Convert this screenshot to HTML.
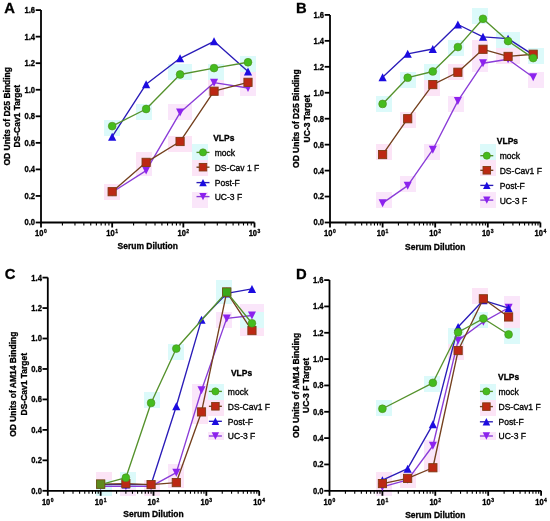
<!DOCTYPE html><html><head><meta charset="utf-8"><style>html,body{margin:0;padding:0;background:#fff;width:550px;height:521px;overflow:hidden}svg{display:block;will-change:transform}text{font-family:"Liberation Sans", sans-serif}</style></head><body>
<svg width="550" height="521" viewBox="0 0 550 521">
<rect width="550" height="521" fill="#fff"/>
<g><rect x="96" y="472" width="8" height="8" fill="#fce4f6"/><rect x="96" y="480" width="8" height="8" fill="#dcfafa"/><rect x="96" y="488" width="8" height="8" fill="#dcfafa"/><rect x="104" y="120" width="8" height="8" fill="#dcfafa"/><rect x="104" y="128" width="8" height="8" fill="#dcfafa"/><rect x="104" y="184" width="8" height="8" fill="#fce4f6"/><rect x="104" y="192" width="8" height="8" fill="#fce4f6"/><rect x="104" y="472" width="8" height="8" fill="#fce4f6"/><rect x="104" y="480" width="8" height="8" fill="#dcfafa"/><rect x="104" y="488" width="8" height="8" fill="#dcfafa"/><rect x="112" y="120" width="8" height="8" fill="#dcfafa"/><rect x="112" y="128" width="8" height="8" fill="#dcfafa"/><rect x="112" y="184" width="8" height="8" fill="#fce4f6"/><rect x="112" y="192" width="8" height="8" fill="#fce4f6"/><rect x="120" y="472" width="8" height="8" fill="#dcfafa"/><rect x="120" y="480" width="8" height="8" fill="#dcfafa"/><rect x="120" y="488" width="8" height="8" fill="#fae6fa"/><rect x="128" y="472" width="8" height="8" fill="#dcfafa"/><rect x="128" y="480" width="8" height="8" fill="#dcfafa"/><rect x="128" y="488" width="8" height="8" fill="#fae6fa"/><rect x="136" y="104" width="8" height="8" fill="#dcfafa"/><rect x="136" y="112" width="8" height="8" fill="#dcfafa"/><rect x="136" y="152" width="8" height="8" fill="#fce4f6"/><rect x="136" y="160" width="8" height="8" fill="#fce4f6"/><rect x="136" y="168" width="8" height="8" fill="#fae6fa"/><rect x="144" y="104" width="8" height="8" fill="#dcfafa"/><rect x="144" y="112" width="8" height="8" fill="#dcfafa"/><rect x="144" y="152" width="8" height="8" fill="#fce4f6"/><rect x="144" y="160" width="8" height="8" fill="#fce4f6"/><rect x="144" y="168" width="8" height="8" fill="#fae6fa"/><rect x="144" y="392" width="8" height="8" fill="#dcfafa"/><rect x="144" y="400" width="8" height="8" fill="#dcfafa"/><rect x="144" y="480" width="8" height="8" fill="#fce4f6"/><rect x="144" y="488" width="8" height="8" fill="#fce4f6"/><rect x="152" y="392" width="8" height="8" fill="#dcfafa"/><rect x="152" y="400" width="8" height="8" fill="#dcfafa"/><rect x="152" y="480" width="8" height="8" fill="#fce4f6"/><rect x="152" y="488" width="8" height="8" fill="#fce4f6"/><rect x="168" y="64" width="8" height="8" fill="#dcfafa"/><rect x="168" y="72" width="8" height="8" fill="#dcfafa"/><rect x="168" y="104" width="8" height="8" fill="#fae6fa"/><rect x="168" y="112" width="8" height="8" fill="#fae6fa"/><rect x="168" y="136" width="8" height="8" fill="#fce4f6"/><rect x="168" y="144" width="8" height="8" fill="#fce4f6"/><rect x="168" y="344" width="8" height="8" fill="#dcfafa"/><rect x="168" y="352" width="8" height="8" fill="#dcfafa"/><rect x="168" y="464" width="8" height="8" fill="#fae6fa"/><rect x="168" y="472" width="8" height="8" fill="#fce4f6"/><rect x="168" y="480" width="8" height="8" fill="#fce4f6"/><rect x="176" y="64" width="8" height="8" fill="#dcfafa"/><rect x="176" y="72" width="8" height="8" fill="#dcfafa"/><rect x="176" y="104" width="8" height="8" fill="#fae6fa"/><rect x="176" y="112" width="8" height="8" fill="#fae6fa"/><rect x="176" y="136" width="8" height="8" fill="#fce4f6"/><rect x="176" y="144" width="8" height="8" fill="#fce4f6"/><rect x="176" y="344" width="8" height="8" fill="#dcfafa"/><rect x="176" y="352" width="8" height="8" fill="#dcfafa"/><rect x="176" y="464" width="8" height="8" fill="#fae6fa"/><rect x="176" y="472" width="8" height="8" fill="#fce4f6"/><rect x="176" y="480" width="8" height="8" fill="#fce4f6"/><rect x="184" y="64" width="8" height="8" fill="#dcfafa"/><rect x="184" y="72" width="8" height="8" fill="#dcfafa"/><rect x="184" y="104" width="8" height="8" fill="#fae6fa"/><rect x="184" y="112" width="8" height="8" fill="#fae6fa"/><rect x="184" y="136" width="8" height="8" fill="#fce4f6"/><rect x="184" y="144" width="8" height="8" fill="#fce4f6"/><rect x="192" y="144" width="8" height="8" fill="#dcfafa"/><rect x="192" y="152" width="8" height="8" fill="#dcfafa"/><rect x="192" y="160" width="8" height="8" fill="#fce4f6"/><rect x="192" y="168" width="8" height="8" fill="#fce4f6"/><rect x="192" y="192" width="8" height="8" fill="#fae6fa"/><rect x="192" y="200" width="8" height="8" fill="#fae6fa"/><rect x="192" y="384" width="8" height="8" fill="#fae6fa"/><rect x="192" y="392" width="8" height="8" fill="#fae6fa"/><rect x="192" y="400" width="8" height="8" fill="#fce4f6"/><rect x="192" y="408" width="8" height="8" fill="#fce4f6"/><rect x="192" y="416" width="8" height="8" fill="#fce4f6"/><rect x="200" y="144" width="8" height="8" fill="#dcfafa"/><rect x="200" y="152" width="8" height="8" fill="#dcfafa"/><rect x="200" y="160" width="8" height="8" fill="#fce4f6"/><rect x="200" y="168" width="8" height="8" fill="#fce4f6"/><rect x="200" y="192" width="8" height="8" fill="#fae6fa"/><rect x="200" y="200" width="8" height="8" fill="#fae6fa"/><rect x="200" y="384" width="8" height="8" fill="#fae6fa"/><rect x="200" y="392" width="8" height="8" fill="#fae6fa"/><rect x="200" y="400" width="8" height="8" fill="#fce4f6"/><rect x="200" y="408" width="8" height="8" fill="#fce4f6"/><rect x="200" y="416" width="8" height="8" fill="#fce4f6"/><rect x="208" y="64" width="8" height="8" fill="#dcfafa"/><rect x="208" y="72" width="8" height="8" fill="#dcfafa"/><rect x="208" y="80" width="8" height="8" fill="#fce4f6"/><rect x="208" y="88" width="8" height="8" fill="#fce4f6"/><rect x="208" y="384" width="8" height="8" fill="#dcfafa"/><rect x="208" y="392" width="8" height="8" fill="#dcfafa"/><rect x="208" y="400" width="8" height="8" fill="#fce4f6"/><rect x="208" y="408" width="8" height="8" fill="#fce4f6"/><rect x="208" y="432" width="8" height="8" fill="#fae6fa"/><rect x="216" y="64" width="8" height="8" fill="#dcfafa"/><rect x="216" y="72" width="8" height="8" fill="#dcfafa"/><rect x="216" y="80" width="8" height="8" fill="#fce4f6"/><rect x="216" y="88" width="8" height="8" fill="#fce4f6"/><rect x="216" y="280" width="8" height="8" fill="#dcfafa"/><rect x="216" y="288" width="8" height="8" fill="#dcfafa"/><rect x="216" y="296" width="8" height="8" fill="#dcfafa"/><rect x="216" y="312" width="8" height="8" fill="#fae6fa"/><rect x="216" y="320" width="8" height="8" fill="#fae6fa"/><rect x="216" y="384" width="8" height="8" fill="#dcfafa"/><rect x="216" y="392" width="8" height="8" fill="#dcfafa"/><rect x="216" y="400" width="8" height="8" fill="#fce4f6"/><rect x="216" y="408" width="8" height="8" fill="#fce4f6"/><rect x="216" y="432" width="8" height="8" fill="#fae6fa"/><rect x="224" y="280" width="8" height="8" fill="#dcfafa"/><rect x="224" y="288" width="8" height="8" fill="#dcfafa"/><rect x="224" y="296" width="8" height="8" fill="#dcfafa"/><rect x="224" y="312" width="8" height="8" fill="#fae6fa"/><rect x="224" y="320" width="8" height="8" fill="#fae6fa"/><rect x="240" y="56" width="8" height="8" fill="#dcfafa"/><rect x="240" y="64" width="8" height="8" fill="#dcfafa"/><rect x="240" y="72" width="8" height="8" fill="#fce4f6"/><rect x="240" y="80" width="8" height="8" fill="#fce4f6"/><rect x="240" y="88" width="8" height="8" fill="#fae6fa"/><rect x="240" y="304" width="8" height="8" fill="#fae6fa"/><rect x="240" y="312" width="8" height="8" fill="#dcfafa"/><rect x="240" y="320" width="8" height="8" fill="#dcfafa"/><rect x="240" y="328" width="8" height="8" fill="#fce4f6"/><rect x="248" y="56" width="8" height="8" fill="#dcfafa"/><rect x="248" y="64" width="8" height="8" fill="#dcfafa"/><rect x="248" y="72" width="8" height="8" fill="#fce4f6"/><rect x="248" y="80" width="8" height="8" fill="#fce4f6"/><rect x="248" y="88" width="8" height="8" fill="#fae6fa"/><rect x="248" y="304" width="8" height="8" fill="#fae6fa"/><rect x="248" y="312" width="8" height="8" fill="#dcfafa"/><rect x="248" y="320" width="8" height="8" fill="#dcfafa"/><rect x="248" y="328" width="8" height="8" fill="#fce4f6"/><rect x="256" y="304" width="8" height="8" fill="#fae6fa"/><rect x="256" y="312" width="8" height="8" fill="#dcfafa"/><rect x="256" y="320" width="8" height="8" fill="#dcfafa"/><rect x="256" y="328" width="8" height="8" fill="#fce4f6"/><rect x="376" y="96" width="8" height="8" fill="#dcfafa"/><rect x="376" y="104" width="8" height="8" fill="#dcfafa"/><rect x="376" y="144" width="8" height="8" fill="#fce4f6"/><rect x="376" y="152" width="8" height="8" fill="#fce4f6"/><rect x="376" y="192" width="8" height="8" fill="#fae6fa"/><rect x="376" y="200" width="8" height="8" fill="#fae6fa"/><rect x="376" y="400" width="8" height="8" fill="#dcfafa"/><rect x="376" y="408" width="8" height="8" fill="#dcfafa"/><rect x="376" y="472" width="8" height="8" fill="#fce4f6"/><rect x="376" y="480" width="8" height="8" fill="#fce4f6"/><rect x="376" y="488" width="8" height="8" fill="#fae6fa"/><rect x="384" y="96" width="8" height="8" fill="#dcfafa"/><rect x="384" y="104" width="8" height="8" fill="#dcfafa"/><rect x="384" y="144" width="8" height="8" fill="#fce4f6"/><rect x="384" y="152" width="8" height="8" fill="#fce4f6"/><rect x="384" y="192" width="8" height="8" fill="#fae6fa"/><rect x="384" y="200" width="8" height="8" fill="#fae6fa"/><rect x="384" y="400" width="8" height="8" fill="#dcfafa"/><rect x="384" y="408" width="8" height="8" fill="#dcfafa"/><rect x="384" y="472" width="8" height="8" fill="#fce4f6"/><rect x="384" y="480" width="8" height="8" fill="#fce4f6"/><rect x="384" y="488" width="8" height="8" fill="#fae6fa"/><rect x="400" y="72" width="8" height="8" fill="#dcfafa"/><rect x="400" y="80" width="8" height="8" fill="#dcfafa"/><rect x="400" y="112" width="8" height="8" fill="#fce4f6"/><rect x="400" y="120" width="8" height="8" fill="#fce4f6"/><rect x="400" y="176" width="8" height="8" fill="#fae6fa"/><rect x="400" y="184" width="8" height="8" fill="#fae6fa"/><rect x="400" y="472" width="8" height="8" fill="#fce4f6"/><rect x="400" y="480" width="8" height="8" fill="#fce4f6"/><rect x="408" y="72" width="8" height="8" fill="#dcfafa"/><rect x="408" y="80" width="8" height="8" fill="#dcfafa"/><rect x="408" y="112" width="8" height="8" fill="#fce4f6"/><rect x="408" y="120" width="8" height="8" fill="#fce4f6"/><rect x="408" y="176" width="8" height="8" fill="#fae6fa"/><rect x="408" y="184" width="8" height="8" fill="#fae6fa"/><rect x="408" y="472" width="8" height="8" fill="#fce4f6"/><rect x="408" y="480" width="8" height="8" fill="#fce4f6"/><rect x="424" y="64" width="8" height="8" fill="#dcfafa"/><rect x="424" y="72" width="8" height="8" fill="#dcfafa"/><rect x="424" y="80" width="8" height="8" fill="#fce4f6"/><rect x="424" y="88" width="8" height="8" fill="#fce4f6"/><rect x="424" y="144" width="8" height="8" fill="#fae6fa"/><rect x="424" y="152" width="8" height="8" fill="#fae6fa"/><rect x="424" y="376" width="8" height="8" fill="#dcfafa"/><rect x="424" y="384" width="8" height="8" fill="#dcfafa"/><rect x="424" y="440" width="8" height="8" fill="#fae6fa"/><rect x="424" y="448" width="8" height="8" fill="#fae6fa"/><rect x="424" y="456" width="8" height="8" fill="#fce4f6"/><rect x="424" y="464" width="8" height="8" fill="#fce4f6"/><rect x="432" y="64" width="8" height="8" fill="#dcfafa"/><rect x="432" y="72" width="8" height="8" fill="#dcfafa"/><rect x="432" y="80" width="8" height="8" fill="#fce4f6"/><rect x="432" y="88" width="8" height="8" fill="#fce4f6"/><rect x="432" y="144" width="8" height="8" fill="#fae6fa"/><rect x="432" y="152" width="8" height="8" fill="#fae6fa"/><rect x="432" y="376" width="8" height="8" fill="#dcfafa"/><rect x="432" y="384" width="8" height="8" fill="#dcfafa"/><rect x="432" y="440" width="8" height="8" fill="#fae6fa"/><rect x="432" y="448" width="8" height="8" fill="#fae6fa"/><rect x="432" y="456" width="8" height="8" fill="#fce4f6"/><rect x="432" y="464" width="8" height="8" fill="#fce4f6"/><rect x="448" y="40" width="8" height="8" fill="#dcfafa"/><rect x="448" y="48" width="8" height="8" fill="#dcfafa"/><rect x="448" y="64" width="8" height="8" fill="#fce4f6"/><rect x="448" y="72" width="8" height="8" fill="#fce4f6"/><rect x="448" y="96" width="8" height="8" fill="#fae6fa"/><rect x="448" y="104" width="8" height="8" fill="#fae6fa"/><rect x="448" y="328" width="8" height="8" fill="#dcfafa"/><rect x="448" y="336" width="8" height="8" fill="#dcfafa"/><rect x="448" y="344" width="8" height="8" fill="#fce4f6"/><rect x="448" y="352" width="8" height="8" fill="#fce4f6"/><rect x="456" y="40" width="8" height="8" fill="#dcfafa"/><rect x="456" y="48" width="8" height="8" fill="#dcfafa"/><rect x="456" y="64" width="8" height="8" fill="#fce4f6"/><rect x="456" y="72" width="8" height="8" fill="#fce4f6"/><rect x="456" y="96" width="8" height="8" fill="#fae6fa"/><rect x="456" y="104" width="8" height="8" fill="#fae6fa"/><rect x="456" y="328" width="8" height="8" fill="#dcfafa"/><rect x="456" y="336" width="8" height="8" fill="#dcfafa"/><rect x="456" y="344" width="8" height="8" fill="#fce4f6"/><rect x="456" y="352" width="8" height="8" fill="#fce4f6"/><rect x="472" y="8" width="8" height="8" fill="#dcfafa"/><rect x="472" y="16" width="8" height="8" fill="#dcfafa"/><rect x="472" y="40" width="8" height="8" fill="#fce4f6"/><rect x="472" y="48" width="8" height="8" fill="#fce4f6"/><rect x="472" y="56" width="8" height="8" fill="#fae6fa"/><rect x="472" y="64" width="8" height="8" fill="#fae6fa"/><rect x="472" y="288" width="8" height="8" fill="#fce4f6"/><rect x="472" y="296" width="8" height="8" fill="#fce4f6"/><rect x="472" y="312" width="8" height="8" fill="#dcfafa"/><rect x="472" y="320" width="8" height="8" fill="#dcfafa"/><rect x="480" y="8" width="8" height="8" fill="#dcfafa"/><rect x="480" y="16" width="8" height="8" fill="#dcfafa"/><rect x="480" y="40" width="8" height="8" fill="#fce4f6"/><rect x="480" y="48" width="8" height="8" fill="#fce4f6"/><rect x="480" y="56" width="8" height="8" fill="#fae6fa"/><rect x="480" y="64" width="8" height="8" fill="#fae6fa"/><rect x="480" y="144" width="8" height="8" fill="#dcfafa"/><rect x="480" y="152" width="8" height="8" fill="#dcfafa"/><rect x="480" y="160" width="8" height="8" fill="#fce4f6"/><rect x="480" y="168" width="8" height="8" fill="#fce4f6"/><rect x="480" y="192" width="8" height="8" fill="#fae6fa"/><rect x="480" y="200" width="8" height="8" fill="#fae6fa"/><rect x="480" y="288" width="8" height="8" fill="#fce4f6"/><rect x="480" y="296" width="8" height="8" fill="#fce4f6"/><rect x="480" y="312" width="8" height="8" fill="#dcfafa"/><rect x="480" y="320" width="8" height="8" fill="#dcfafa"/><rect x="480" y="384" width="8" height="8" fill="#dcfafa"/><rect x="480" y="392" width="8" height="8" fill="#dcfafa"/><rect x="480" y="400" width="8" height="8" fill="#fce4f6"/><rect x="480" y="408" width="8" height="8" fill="#fce4f6"/><rect x="480" y="432" width="8" height="8" fill="#fae6fa"/><rect x="488" y="144" width="8" height="8" fill="#dcfafa"/><rect x="488" y="152" width="8" height="8" fill="#dcfafa"/><rect x="488" y="160" width="8" height="8" fill="#fce4f6"/><rect x="488" y="168" width="8" height="8" fill="#fce4f6"/><rect x="488" y="192" width="8" height="8" fill="#fae6fa"/><rect x="488" y="200" width="8" height="8" fill="#fae6fa"/><rect x="488" y="384" width="8" height="8" fill="#dcfafa"/><rect x="488" y="392" width="8" height="8" fill="#dcfafa"/><rect x="488" y="400" width="8" height="8" fill="#fce4f6"/><rect x="488" y="408" width="8" height="8" fill="#fce4f6"/><rect x="488" y="432" width="8" height="8" fill="#fae6fa"/><rect x="496" y="32" width="8" height="8" fill="#dcfafa"/><rect x="496" y="40" width="8" height="8" fill="#dcfafa"/><rect x="496" y="48" width="8" height="8" fill="#fce4f6"/><rect x="496" y="56" width="8" height="8" fill="#fce4f6"/><rect x="504" y="32" width="8" height="8" fill="#dcfafa"/><rect x="504" y="40" width="8" height="8" fill="#dcfafa"/><rect x="504" y="48" width="8" height="8" fill="#fce4f6"/><rect x="504" y="56" width="8" height="8" fill="#fce4f6"/><rect x="504" y="296" width="8" height="8" fill="#fae6fa"/><rect x="504" y="304" width="8" height="8" fill="#fae6fa"/><rect x="504" y="312" width="8" height="8" fill="#fce4f6"/><rect x="504" y="320" width="8" height="8" fill="#fce4f6"/><rect x="504" y="328" width="8" height="8" fill="#dcfafa"/><rect x="504" y="336" width="8" height="8" fill="#dcfafa"/><rect x="512" y="32" width="8" height="8" fill="#dcfafa"/><rect x="512" y="40" width="8" height="8" fill="#dcfafa"/><rect x="512" y="48" width="8" height="8" fill="#fce4f6"/><rect x="512" y="56" width="8" height="8" fill="#fce4f6"/><rect x="512" y="296" width="8" height="8" fill="#fae6fa"/><rect x="512" y="304" width="8" height="8" fill="#fae6fa"/><rect x="512" y="312" width="8" height="8" fill="#fce4f6"/><rect x="512" y="320" width="8" height="8" fill="#fce4f6"/><rect x="512" y="328" width="8" height="8" fill="#dcfafa"/><rect x="512" y="336" width="8" height="8" fill="#dcfafa"/><rect x="528" y="48" width="8" height="8" fill="#dcfafa"/><rect x="528" y="56" width="8" height="8" fill="#dcfafa"/><rect x="528" y="72" width="8" height="8" fill="#fae6fa"/><rect x="528" y="80" width="8" height="8" fill="#fae6fa"/><rect x="536" y="48" width="8" height="8" fill="#dcfafa"/><rect x="536" y="56" width="8" height="8" fill="#dcfafa"/><rect x="536" y="72" width="8" height="8" fill="#fae6fa"/><rect x="536" y="80" width="8" height="8" fill="#fae6fa"/></g>
<text transform="translate(4.3 13.4) scale(1 1)" font-size="14.8" font-weight="bold" stroke="#000" stroke-width="0.3">A</text>
<path d="M41 10.1V222.5H254.51" fill="none" stroke="#000" stroke-width="1.8"/>
<path d="M35.7 222.5H41" stroke="#000" stroke-width="1.8"/>
<text transform="translate(35.1 225.4) scale(0.95 1.1)" font-size="8" font-weight="bold" stroke="#000" stroke-width="0.3" text-anchor="end">0.0</text>
<path d="M35.7 195.95H41" stroke="#000" stroke-width="1.8"/>
<text transform="translate(35.1 198.85) scale(0.95 1.1)" font-size="8" font-weight="bold" stroke="#000" stroke-width="0.3" text-anchor="end">0.2</text>
<path d="M35.7 169.4H41" stroke="#000" stroke-width="1.8"/>
<text transform="translate(35.1 172.3) scale(0.95 1.1)" font-size="8" font-weight="bold" stroke="#000" stroke-width="0.3" text-anchor="end">0.4</text>
<path d="M35.7 142.85H41" stroke="#000" stroke-width="1.8"/>
<text transform="translate(35.1 145.75) scale(0.95 1.1)" font-size="8" font-weight="bold" stroke="#000" stroke-width="0.3" text-anchor="end">0.6</text>
<path d="M35.7 116.3H41" stroke="#000" stroke-width="1.8"/>
<text transform="translate(35.1 119.2) scale(0.95 1.1)" font-size="8" font-weight="bold" stroke="#000" stroke-width="0.3" text-anchor="end">0.8</text>
<path d="M35.7 89.75H41" stroke="#000" stroke-width="1.8"/>
<text transform="translate(35.1 92.65) scale(0.95 1.1)" font-size="8" font-weight="bold" stroke="#000" stroke-width="0.3" text-anchor="end">1.0</text>
<path d="M35.7 63.2H41" stroke="#000" stroke-width="1.8"/>
<text transform="translate(35.1 66.1) scale(0.95 1.1)" font-size="8" font-weight="bold" stroke="#000" stroke-width="0.3" text-anchor="end">1.2</text>
<path d="M35.7 36.65H41" stroke="#000" stroke-width="1.8"/>
<text transform="translate(35.1 39.55) scale(0.95 1.1)" font-size="8" font-weight="bold" stroke="#000" stroke-width="0.3" text-anchor="end">1.4</text>
<path d="M35.7 10.1H41" stroke="#000" stroke-width="1.8"/>
<text transform="translate(35.1 13) scale(0.95 1.1)" font-size="8" font-weight="bold" stroke="#000" stroke-width="0.3" text-anchor="end">1.6</text>
<path d="M41 222.5V227.5" stroke="#000" stroke-width="1.8"/>
<text transform="translate(43.5 236.1) scale(1.02 1.1)" font-size="7.4" font-weight="bold" stroke="#000" stroke-width="0.3" text-anchor="end">10</text>
<text transform="translate(44 232.8) scale(1 1.1)" font-size="5" font-weight="bold" stroke="#000" stroke-width="0.3">0</text>
<path d="M62.42 222.5V225.5" stroke="#000" stroke-width="1.1"/>
<path d="M74.96 222.5V225.5" stroke="#000" stroke-width="1.1"/>
<path d="M83.85 222.5V225.5" stroke="#000" stroke-width="1.1"/>
<path d="M90.75 222.5V225.5" stroke="#000" stroke-width="1.1"/>
<path d="M96.38 222.5V225.5" stroke="#000" stroke-width="1.1"/>
<path d="M101.15 222.5V225.5" stroke="#000" stroke-width="1.1"/>
<path d="M105.27 222.5V225.5" stroke="#000" stroke-width="1.1"/>
<path d="M108.91 222.5V225.5" stroke="#000" stroke-width="1.1"/>
<path d="M112.17 222.5V227.5" stroke="#000" stroke-width="1.8"/>
<text transform="translate(114.67 236.1) scale(1.02 1.1)" font-size="7.4" font-weight="bold" stroke="#000" stroke-width="0.3" text-anchor="end">10</text>
<text transform="translate(115.17 232.8) scale(1 1.1)" font-size="5" font-weight="bold" stroke="#000" stroke-width="0.3">1</text>
<path d="M133.59 222.5V225.5" stroke="#000" stroke-width="1.1"/>
<path d="M146.13 222.5V225.5" stroke="#000" stroke-width="1.1"/>
<path d="M155.02 222.5V225.5" stroke="#000" stroke-width="1.1"/>
<path d="M161.92 222.5V225.5" stroke="#000" stroke-width="1.1"/>
<path d="M167.55 222.5V225.5" stroke="#000" stroke-width="1.1"/>
<path d="M172.32 222.5V225.5" stroke="#000" stroke-width="1.1"/>
<path d="M176.44 222.5V225.5" stroke="#000" stroke-width="1.1"/>
<path d="M180.08 222.5V225.5" stroke="#000" stroke-width="1.1"/>
<path d="M183.34 222.5V227.5" stroke="#000" stroke-width="1.8"/>
<text transform="translate(185.84 236.1) scale(1.02 1.1)" font-size="7.4" font-weight="bold" stroke="#000" stroke-width="0.3" text-anchor="end">10</text>
<text transform="translate(186.34 232.8) scale(1 1.1)" font-size="5" font-weight="bold" stroke="#000" stroke-width="0.3">2</text>
<path d="M204.76 222.5V225.5" stroke="#000" stroke-width="1.1"/>
<path d="M217.3 222.5V225.5" stroke="#000" stroke-width="1.1"/>
<path d="M226.19 222.5V225.5" stroke="#000" stroke-width="1.1"/>
<path d="M233.09 222.5V225.5" stroke="#000" stroke-width="1.1"/>
<path d="M238.72 222.5V225.5" stroke="#000" stroke-width="1.1"/>
<path d="M243.49 222.5V225.5" stroke="#000" stroke-width="1.1"/>
<path d="M247.61 222.5V225.5" stroke="#000" stroke-width="1.1"/>
<path d="M251.25 222.5V225.5" stroke="#000" stroke-width="1.1"/>
<path d="M254.51 222.5V227.5" stroke="#000" stroke-width="1.8"/>
<text transform="translate(257.01 236.1) scale(1.02 1.1)" font-size="7.4" font-weight="bold" stroke="#000" stroke-width="0.3" text-anchor="end">10</text>
<text transform="translate(257.51 232.8) scale(1 1.1)" font-size="5" font-weight="bold" stroke="#000" stroke-width="0.3">3</text>
<text transform="translate(147.75 249.2) scale(1 1.04)" font-size="8.5" font-weight="bold" stroke="#000" stroke-width="0.3" text-anchor="middle">Serum Dilution</text>
<text transform="translate(10 116.3) rotate(-90) scale(1 1.1)" font-size="8.5" font-weight="bold" stroke="#000" stroke-width="0.3" text-anchor="middle">OD Units of D25 Binding</text>
<text transform="translate(20.3 116.3) rotate(-90) scale(1 1.1)" font-size="8.5" font-weight="bold" stroke="#000" stroke-width="0.3" text-anchor="middle">DS-Cav1 Target</text>
<polyline points="112.17,192.2 146.13,170.57 180.08,112.55 214.04,82.69 248,88" fill="none" stroke="#8a3cd8" stroke-width="1.35" stroke-linejoin="round"/>
<path d="M108.17 188.2L116.17 188.2L112.17 196.2Z" fill="#8c22ee"/>
<path d="M142.13 166.57L150.13 166.57L146.13 174.57Z" fill="#8c22ee"/>
<path d="M176.08 108.55L184.08 108.55L180.08 116.55Z" fill="#8c22ee"/>
<path d="M210.04 78.69L218.04 78.69L214.04 86.69Z" fill="#8c22ee"/>
<path d="M244 84L252 84L248 92Z" fill="#8c22ee"/>
<polyline points="112.17,136.64 146.13,84.2 180.08,58.32 214.04,41.33 248,71.46" fill="none" stroke="#2a1cb8" stroke-width="1.35" stroke-linejoin="round"/>
<path d="M112.17 132.64L116.27 140.64L108.07 140.64Z" fill="#1c0ce0"/>
<path d="M146.13 80.2L150.23 88.2L142.03 88.2Z" fill="#1c0ce0"/>
<path d="M180.08 54.32L184.18 62.32L175.98 62.32Z" fill="#1c0ce0"/>
<path d="M214.04 37.33L218.14 45.33L209.94 45.33Z" fill="#1c0ce0"/>
<path d="M248 67.46L252.1 75.46L243.9 75.46Z" fill="#1c0ce0"/>
<polyline points="112.17,191.7 146.13,162.36 180.08,141.52 214.04,91.21 248,82.32" fill="none" stroke="#74401e" stroke-width="1.35" stroke-linejoin="round"/>
<rect x="108.07" y="187.6" width="8.2" height="8.2" fill="#bc2814" stroke="#7f3a12" stroke-width="0.9"/>
<rect x="142.03" y="158.26" width="8.2" height="8.2" fill="#bc2814" stroke="#7f3a12" stroke-width="0.9"/>
<rect x="175.98" y="137.42" width="8.2" height="8.2" fill="#bc2814" stroke="#7f3a12" stroke-width="0.9"/>
<rect x="209.94" y="87.11" width="8.2" height="8.2" fill="#bc2814" stroke="#7f3a12" stroke-width="0.9"/>
<rect x="243.9" y="78.22" width="8.2" height="8.2" fill="#bc2814" stroke="#7f3a12" stroke-width="0.9"/>
<polyline points="112.17,126.12 146.13,109 180.08,74.48 214.04,68.11 248,62.27" fill="none" stroke="#55922c" stroke-width="1.35" stroke-linejoin="round"/>
<circle cx="112.17" cy="126.12" r="3.9" fill="#44bc1e" stroke="#4f8a1a" stroke-width="0.6"/>
<circle cx="146.13" cy="109" r="3.9" fill="#44bc1e" stroke="#4f8a1a" stroke-width="0.6"/>
<circle cx="180.08" cy="74.48" r="3.9" fill="#44bc1e" stroke="#4f8a1a" stroke-width="0.6"/>
<circle cx="214.04" cy="68.11" r="3.9" fill="#44bc1e" stroke="#4f8a1a" stroke-width="0.6"/>
<circle cx="248" cy="62.27" r="3.9" fill="#44bc1e" stroke="#4f8a1a" stroke-width="0.6"/>
<text transform="translate(213.2 140.9) scale(1 1.1)" font-size="8.5" font-weight="bold" stroke="#000" stroke-width="0.3">VLPs</text>
<path d="M196.5 152.4H209.5" stroke="#55922c" stroke-width="1.35"/>
<circle cx="203" cy="152.4" r="3.59" fill="#44bc1e" stroke="#4f8a1a" stroke-width="0.6"/>
<text transform="translate(214.7 155.8) scale(1.03 1.1)" font-size="8.3" stroke="#000" stroke-width="0.3">mock</text>
<path d="M196.5 167.2H209.5" stroke="#74401e" stroke-width="1.35"/>
<rect x="199.23" y="163.43" width="7.54" height="7.54" fill="#bc2814" stroke="#7f3a12" stroke-width="0.9"/>
<text transform="translate(214.7 170.6) scale(1.03 1.1)" font-size="8.3" stroke="#000" stroke-width="0.3">DS-Cav 1 F</text>
<path d="M196.5 182.6H209.5" stroke="#2a1cb8" stroke-width="1.35"/>
<path d="M203 178.92L206.77 186.28L199.23 186.28Z" fill="#1c0ce0"/>
<text transform="translate(214.7 186) scale(1.03 1.1)" font-size="8.3" stroke="#000" stroke-width="0.3">Post-F</text>
<path d="M196.5 196.6H209.5" stroke="#8a3cd8" stroke-width="1.35"/>
<path d="M199.32 192.92L206.68 192.92L203 200.28Z" fill="#8c22ee"/>
<text transform="translate(214.7 200) scale(1.03 1.1)" font-size="8.3" stroke="#000" stroke-width="0.3">UC-3 F</text>
<text transform="translate(296.1 13.1) scale(1 1)" font-size="14.8" font-weight="bold" stroke="#000" stroke-width="0.3">B</text>
<path d="M330 14.9V222.5H540.4" fill="none" stroke="#000" stroke-width="1.8"/>
<path d="M324.7 222.5H330" stroke="#000" stroke-width="1.8"/>
<text transform="translate(324.1 225.4) scale(0.95 1.1)" font-size="8" font-weight="bold" stroke="#000" stroke-width="0.3" text-anchor="end">0.0</text>
<path d="M324.7 196.55H330" stroke="#000" stroke-width="1.8"/>
<text transform="translate(324.1 199.45) scale(0.95 1.1)" font-size="8" font-weight="bold" stroke="#000" stroke-width="0.3" text-anchor="end">0.2</text>
<path d="M324.7 170.6H330" stroke="#000" stroke-width="1.8"/>
<text transform="translate(324.1 173.5) scale(0.95 1.1)" font-size="8" font-weight="bold" stroke="#000" stroke-width="0.3" text-anchor="end">0.4</text>
<path d="M324.7 144.65H330" stroke="#000" stroke-width="1.8"/>
<text transform="translate(324.1 147.55) scale(0.95 1.1)" font-size="8" font-weight="bold" stroke="#000" stroke-width="0.3" text-anchor="end">0.6</text>
<path d="M324.7 118.7H330" stroke="#000" stroke-width="1.8"/>
<text transform="translate(324.1 121.6) scale(0.95 1.1)" font-size="8" font-weight="bold" stroke="#000" stroke-width="0.3" text-anchor="end">0.8</text>
<path d="M324.7 92.75H330" stroke="#000" stroke-width="1.8"/>
<text transform="translate(324.1 95.65) scale(0.95 1.1)" font-size="8" font-weight="bold" stroke="#000" stroke-width="0.3" text-anchor="end">1.0</text>
<path d="M324.7 66.8H330" stroke="#000" stroke-width="1.8"/>
<text transform="translate(324.1 69.7) scale(0.95 1.1)" font-size="8" font-weight="bold" stroke="#000" stroke-width="0.3" text-anchor="end">1.2</text>
<path d="M324.7 40.85H330" stroke="#000" stroke-width="1.8"/>
<text transform="translate(324.1 43.75) scale(0.95 1.1)" font-size="8" font-weight="bold" stroke="#000" stroke-width="0.3" text-anchor="end">1.4</text>
<path d="M324.7 14.9H330" stroke="#000" stroke-width="1.8"/>
<text transform="translate(324.1 17.8) scale(0.95 1.1)" font-size="8" font-weight="bold" stroke="#000" stroke-width="0.3" text-anchor="end">1.6</text>
<path d="M330 222.5V227.5" stroke="#000" stroke-width="1.8"/>
<text transform="translate(332.5 236.1) scale(1.02 1.1)" font-size="7.4" font-weight="bold" stroke="#000" stroke-width="0.3" text-anchor="end">10</text>
<text transform="translate(333 232.8) scale(1 1.1)" font-size="5" font-weight="bold" stroke="#000" stroke-width="0.3">0</text>
<path d="M345.83 222.5V225.5" stroke="#000" stroke-width="1.1"/>
<path d="M355.1 222.5V225.5" stroke="#000" stroke-width="1.1"/>
<path d="M361.67 222.5V225.5" stroke="#000" stroke-width="1.1"/>
<path d="M366.77 222.5V225.5" stroke="#000" stroke-width="1.1"/>
<path d="M370.93 222.5V225.5" stroke="#000" stroke-width="1.1"/>
<path d="M374.45 222.5V225.5" stroke="#000" stroke-width="1.1"/>
<path d="M377.5 222.5V225.5" stroke="#000" stroke-width="1.1"/>
<path d="M380.19 222.5V225.5" stroke="#000" stroke-width="1.1"/>
<path d="M382.6 222.5V227.5" stroke="#000" stroke-width="1.8"/>
<text transform="translate(385.1 236.1) scale(1.02 1.1)" font-size="7.4" font-weight="bold" stroke="#000" stroke-width="0.3" text-anchor="end">10</text>
<text transform="translate(385.6 232.8) scale(1 1.1)" font-size="5" font-weight="bold" stroke="#000" stroke-width="0.3">1</text>
<path d="M398.43 222.5V225.5" stroke="#000" stroke-width="1.1"/>
<path d="M407.7 222.5V225.5" stroke="#000" stroke-width="1.1"/>
<path d="M414.27 222.5V225.5" stroke="#000" stroke-width="1.1"/>
<path d="M419.37 222.5V225.5" stroke="#000" stroke-width="1.1"/>
<path d="M423.53 222.5V225.5" stroke="#000" stroke-width="1.1"/>
<path d="M427.05 222.5V225.5" stroke="#000" stroke-width="1.1"/>
<path d="M430.1 222.5V225.5" stroke="#000" stroke-width="1.1"/>
<path d="M432.79 222.5V225.5" stroke="#000" stroke-width="1.1"/>
<path d="M435.2 222.5V227.5" stroke="#000" stroke-width="1.8"/>
<text transform="translate(437.7 236.1) scale(1.02 1.1)" font-size="7.4" font-weight="bold" stroke="#000" stroke-width="0.3" text-anchor="end">10</text>
<text transform="translate(438.2 232.8) scale(1 1.1)" font-size="5" font-weight="bold" stroke="#000" stroke-width="0.3">2</text>
<path d="M451.03 222.5V225.5" stroke="#000" stroke-width="1.1"/>
<path d="M460.3 222.5V225.5" stroke="#000" stroke-width="1.1"/>
<path d="M466.87 222.5V225.5" stroke="#000" stroke-width="1.1"/>
<path d="M471.97 222.5V225.5" stroke="#000" stroke-width="1.1"/>
<path d="M476.13 222.5V225.5" stroke="#000" stroke-width="1.1"/>
<path d="M479.65 222.5V225.5" stroke="#000" stroke-width="1.1"/>
<path d="M482.7 222.5V225.5" stroke="#000" stroke-width="1.1"/>
<path d="M485.39 222.5V225.5" stroke="#000" stroke-width="1.1"/>
<path d="M487.8 222.5V227.5" stroke="#000" stroke-width="1.8"/>
<text transform="translate(490.3 236.1) scale(1.02 1.1)" font-size="7.4" font-weight="bold" stroke="#000" stroke-width="0.3" text-anchor="end">10</text>
<text transform="translate(490.8 232.8) scale(1 1.1)" font-size="5" font-weight="bold" stroke="#000" stroke-width="0.3">3</text>
<path d="M503.63 222.5V225.5" stroke="#000" stroke-width="1.1"/>
<path d="M512.9 222.5V225.5" stroke="#000" stroke-width="1.1"/>
<path d="M519.47 222.5V225.5" stroke="#000" stroke-width="1.1"/>
<path d="M524.57 222.5V225.5" stroke="#000" stroke-width="1.1"/>
<path d="M528.73 222.5V225.5" stroke="#000" stroke-width="1.1"/>
<path d="M532.25 222.5V225.5" stroke="#000" stroke-width="1.1"/>
<path d="M535.3 222.5V225.5" stroke="#000" stroke-width="1.1"/>
<path d="M537.99 222.5V225.5" stroke="#000" stroke-width="1.1"/>
<path d="M540.4 222.5V227.5" stroke="#000" stroke-width="1.8"/>
<text transform="translate(542.9 236.1) scale(1.02 1.1)" font-size="7.4" font-weight="bold" stroke="#000" stroke-width="0.3" text-anchor="end">10</text>
<text transform="translate(543.4 232.8) scale(1 1.1)" font-size="5" font-weight="bold" stroke="#000" stroke-width="0.3">4</text>
<text transform="translate(435.2 249.5) scale(1 1.04)" font-size="8.5" font-weight="bold" stroke="#000" stroke-width="0.3" text-anchor="middle">Serum Dilution</text>
<text transform="translate(299.2 118.7) rotate(-90) scale(1 1.1)" font-size="8.5" font-weight="bold" stroke="#000" stroke-width="0.3" text-anchor="middle">OD Units of D25 Binding</text>
<text transform="translate(310 118.7) rotate(-90) scale(1 1.1)" font-size="8.5" font-weight="bold" stroke="#000" stroke-width="0.3" text-anchor="middle">UC-3 Target</text>
<polyline points="382.6,203.16 407.7,185.64 432.79,149.7 457.89,100.92 482.99,63.29 508.08,59.27 533.18,77.3" fill="none" stroke="#8a3cd8" stroke-width="1.35" stroke-linejoin="round"/>
<path d="M378.6 199.16L386.6 199.16L382.6 207.16Z" fill="#8c22ee"/>
<path d="M403.7 181.64L411.7 181.64L407.7 189.64Z" fill="#8c22ee"/>
<path d="M428.79 145.7L436.79 145.7L432.79 153.7Z" fill="#8c22ee"/>
<path d="M453.89 96.92L461.89 96.92L457.89 104.92Z" fill="#8c22ee"/>
<path d="M478.99 59.29L486.99 59.29L482.99 67.29Z" fill="#8c22ee"/>
<path d="M504.08 55.27L512.08 55.27L508.08 63.27Z" fill="#8c22ee"/>
<path d="M529.18 73.3L537.18 73.3L533.18 81.3Z" fill="#8c22ee"/>
<polyline points="382.6,77.19 407.7,53.83 432.79,49.03 457.89,24.51 482.99,36.84 508.08,38.65 533.18,54.87" fill="none" stroke="#2a1cb8" stroke-width="1.35" stroke-linejoin="round"/>
<path d="M382.6 73.19L386.7 81.19L378.5 81.19Z" fill="#1c0ce0"/>
<path d="M407.7 49.83L411.8 57.83L403.6 57.83Z" fill="#1c0ce0"/>
<path d="M432.79 45.03L436.89 53.03L428.69 53.03Z" fill="#1c0ce0"/>
<path d="M457.89 20.51L461.99 28.51L453.79 28.51Z" fill="#1c0ce0"/>
<path d="M482.99 32.84L487.09 40.84L478.89 40.84Z" fill="#1c0ce0"/>
<path d="M508.08 34.65L512.18 42.65L503.98 42.65Z" fill="#1c0ce0"/>
<path d="M533.18 50.87L537.28 58.87L529.08 58.87Z" fill="#1c0ce0"/>
<polyline points="382.6,154.58 407.7,118.7 432.79,84.58 457.89,72.25 482.99,49.28 508.08,56.42 533.18,54.21" fill="none" stroke="#74401e" stroke-width="1.35" stroke-linejoin="round"/>
<rect x="378.5" y="150.48" width="8.2" height="8.2" fill="#bc2814" stroke="#7f3a12" stroke-width="0.9"/>
<rect x="403.6" y="114.6" width="8.2" height="8.2" fill="#bc2814" stroke="#7f3a12" stroke-width="0.9"/>
<rect x="428.69" y="80.48" width="8.2" height="8.2" fill="#bc2814" stroke="#7f3a12" stroke-width="0.9"/>
<rect x="453.79" y="68.15" width="8.2" height="8.2" fill="#bc2814" stroke="#7f3a12" stroke-width="0.9"/>
<rect x="478.89" y="45.18" width="8.2" height="8.2" fill="#bc2814" stroke="#7f3a12" stroke-width="0.9"/>
<rect x="503.98" y="52.32" width="8.2" height="8.2" fill="#bc2814" stroke="#7f3a12" stroke-width="0.9"/>
<rect x="529.08" y="50.11" width="8.2" height="8.2" fill="#bc2814" stroke="#7f3a12" stroke-width="0.9"/>
<polyline points="382.6,103.91 407.7,77.7 432.79,71.47 457.89,47.08 482.99,18.79 508.08,41.11 533.18,58.11" fill="none" stroke="#55922c" stroke-width="1.35" stroke-linejoin="round"/>
<circle cx="382.6" cy="103.91" r="3.9" fill="#44bc1e" stroke="#4f8a1a" stroke-width="0.6"/>
<circle cx="407.7" cy="77.7" r="3.9" fill="#44bc1e" stroke="#4f8a1a" stroke-width="0.6"/>
<circle cx="432.79" cy="71.47" r="3.9" fill="#44bc1e" stroke="#4f8a1a" stroke-width="0.6"/>
<circle cx="457.89" cy="47.08" r="3.9" fill="#44bc1e" stroke="#4f8a1a" stroke-width="0.6"/>
<circle cx="482.99" cy="18.79" r="3.9" fill="#44bc1e" stroke="#4f8a1a" stroke-width="0.6"/>
<circle cx="508.08" cy="41.11" r="3.9" fill="#44bc1e" stroke="#4f8a1a" stroke-width="0.6"/>
<circle cx="533.18" cy="58.11" r="3.9" fill="#44bc1e" stroke="#4f8a1a" stroke-width="0.6"/>
<text transform="translate(496.8 144) scale(1 1.1)" font-size="8.5" font-weight="bold" stroke="#000" stroke-width="0.3">VLPs</text>
<path d="M480.3 155.7H493.3" stroke="#55922c" stroke-width="1.35"/>
<circle cx="486.8" cy="155.7" r="3.59" fill="#44bc1e" stroke="#4f8a1a" stroke-width="0.6"/>
<text transform="translate(499.7 159.1) scale(1.03 1.1)" font-size="8.3" stroke="#000" stroke-width="0.3">mock</text>
<path d="M480.3 170.3H493.3" stroke="#74401e" stroke-width="1.35"/>
<rect x="483.03" y="166.53" width="7.54" height="7.54" fill="#bc2814" stroke="#7f3a12" stroke-width="0.9"/>
<text transform="translate(499.7 173.7) scale(1.03 1.1)" font-size="8.3" stroke="#000" stroke-width="0.3">DS-Cav1 F</text>
<path d="M480.3 185.4H493.3" stroke="#2a1cb8" stroke-width="1.35"/>
<path d="M486.8 181.72L490.57 189.08L483.03 189.08Z" fill="#1c0ce0"/>
<text transform="translate(499.7 188.8) scale(1.03 1.1)" font-size="8.3" stroke="#000" stroke-width="0.3">Post-F</text>
<path d="M480.3 200.1H493.3" stroke="#8a3cd8" stroke-width="1.35"/>
<path d="M483.12 196.42L490.48 196.42L486.8 203.78Z" fill="#8c22ee"/>
<text transform="translate(499.7 203.5) scale(1.03 1.1)" font-size="8.3" stroke="#000" stroke-width="0.3">UC-3 F</text>
<text transform="translate(4.7 278.8) scale(1 1)" font-size="14.8" font-weight="bold" stroke="#000" stroke-width="0.3">C</text>
<path d="M47.8 277.6V490.8H259.2" fill="none" stroke="#000" stroke-width="1.8"/>
<path d="M42.5 490.8H47.8" stroke="#000" stroke-width="1.8"/>
<text transform="translate(41.9 493.7) scale(0.95 1.1)" font-size="8" font-weight="bold" stroke="#000" stroke-width="0.3" text-anchor="end">0.0</text>
<path d="M42.5 460.34H47.8" stroke="#000" stroke-width="1.8"/>
<text transform="translate(41.9 463.24) scale(0.95 1.1)" font-size="8" font-weight="bold" stroke="#000" stroke-width="0.3" text-anchor="end">0.2</text>
<path d="M42.5 429.89H47.8" stroke="#000" stroke-width="1.8"/>
<text transform="translate(41.9 432.79) scale(0.95 1.1)" font-size="8" font-weight="bold" stroke="#000" stroke-width="0.3" text-anchor="end">0.4</text>
<path d="M42.5 399.43H47.8" stroke="#000" stroke-width="1.8"/>
<text transform="translate(41.9 402.33) scale(0.95 1.1)" font-size="8" font-weight="bold" stroke="#000" stroke-width="0.3" text-anchor="end">0.6</text>
<path d="M42.5 368.97H47.8" stroke="#000" stroke-width="1.8"/>
<text transform="translate(41.9 371.87) scale(0.95 1.1)" font-size="8" font-weight="bold" stroke="#000" stroke-width="0.3" text-anchor="end">0.8</text>
<path d="M42.5 338.51H47.8" stroke="#000" stroke-width="1.8"/>
<text transform="translate(41.9 341.41) scale(0.95 1.1)" font-size="8" font-weight="bold" stroke="#000" stroke-width="0.3" text-anchor="end">1.0</text>
<path d="M42.5 308.06H47.8" stroke="#000" stroke-width="1.8"/>
<text transform="translate(41.9 310.96) scale(0.95 1.1)" font-size="8" font-weight="bold" stroke="#000" stroke-width="0.3" text-anchor="end">1.2</text>
<path d="M42.5 277.6H47.8" stroke="#000" stroke-width="1.8"/>
<text transform="translate(41.9 280.5) scale(0.95 1.1)" font-size="8" font-weight="bold" stroke="#000" stroke-width="0.3" text-anchor="end">1.4</text>
<path d="M47.8 490.8V495.8" stroke="#000" stroke-width="1.8"/>
<text transform="translate(50.3 504.9) scale(1.02 1.1)" font-size="7.4" font-weight="bold" stroke="#000" stroke-width="0.3" text-anchor="end">10</text>
<text transform="translate(50.8 501.6) scale(1 1.1)" font-size="5" font-weight="bold" stroke="#000" stroke-width="0.3">0</text>
<path d="M63.71 490.8V493.8" stroke="#000" stroke-width="1.1"/>
<path d="M73.02 490.8V493.8" stroke="#000" stroke-width="1.1"/>
<path d="M79.62 490.8V493.8" stroke="#000" stroke-width="1.1"/>
<path d="M84.74 490.8V493.8" stroke="#000" stroke-width="1.1"/>
<path d="M88.93 490.8V493.8" stroke="#000" stroke-width="1.1"/>
<path d="M92.46 490.8V493.8" stroke="#000" stroke-width="1.1"/>
<path d="M95.53 490.8V493.8" stroke="#000" stroke-width="1.1"/>
<path d="M98.23 490.8V493.8" stroke="#000" stroke-width="1.1"/>
<path d="M100.65 490.8V495.8" stroke="#000" stroke-width="1.8"/>
<text transform="translate(103.15 504.9) scale(1.02 1.1)" font-size="7.4" font-weight="bold" stroke="#000" stroke-width="0.3" text-anchor="end">10</text>
<text transform="translate(103.65 501.6) scale(1 1.1)" font-size="5" font-weight="bold" stroke="#000" stroke-width="0.3">1</text>
<path d="M116.56 490.8V493.8" stroke="#000" stroke-width="1.1"/>
<path d="M125.87 490.8V493.8" stroke="#000" stroke-width="1.1"/>
<path d="M132.47 490.8V493.8" stroke="#000" stroke-width="1.1"/>
<path d="M137.59 490.8V493.8" stroke="#000" stroke-width="1.1"/>
<path d="M141.78 490.8V493.8" stroke="#000" stroke-width="1.1"/>
<path d="M145.31 490.8V493.8" stroke="#000" stroke-width="1.1"/>
<path d="M148.38 490.8V493.8" stroke="#000" stroke-width="1.1"/>
<path d="M151.08 490.8V493.8" stroke="#000" stroke-width="1.1"/>
<path d="M153.5 490.8V495.8" stroke="#000" stroke-width="1.8"/>
<text transform="translate(156 504.9) scale(1.02 1.1)" font-size="7.4" font-weight="bold" stroke="#000" stroke-width="0.3" text-anchor="end">10</text>
<text transform="translate(156.5 501.6) scale(1 1.1)" font-size="5" font-weight="bold" stroke="#000" stroke-width="0.3">2</text>
<path d="M169.41 490.8V493.8" stroke="#000" stroke-width="1.1"/>
<path d="M178.72 490.8V493.8" stroke="#000" stroke-width="1.1"/>
<path d="M185.32 490.8V493.8" stroke="#000" stroke-width="1.1"/>
<path d="M190.44 490.8V493.8" stroke="#000" stroke-width="1.1"/>
<path d="M194.63 490.8V493.8" stroke="#000" stroke-width="1.1"/>
<path d="M198.16 490.8V493.8" stroke="#000" stroke-width="1.1"/>
<path d="M201.23 490.8V493.8" stroke="#000" stroke-width="1.1"/>
<path d="M203.93 490.8V493.8" stroke="#000" stroke-width="1.1"/>
<path d="M206.35 490.8V495.8" stroke="#000" stroke-width="1.8"/>
<text transform="translate(208.85 504.9) scale(1.02 1.1)" font-size="7.4" font-weight="bold" stroke="#000" stroke-width="0.3" text-anchor="end">10</text>
<text transform="translate(209.35 501.6) scale(1 1.1)" font-size="5" font-weight="bold" stroke="#000" stroke-width="0.3">3</text>
<path d="M222.26 490.8V493.8" stroke="#000" stroke-width="1.1"/>
<path d="M231.57 490.8V493.8" stroke="#000" stroke-width="1.1"/>
<path d="M238.17 490.8V493.8" stroke="#000" stroke-width="1.1"/>
<path d="M243.29 490.8V493.8" stroke="#000" stroke-width="1.1"/>
<path d="M247.48 490.8V493.8" stroke="#000" stroke-width="1.1"/>
<path d="M251.01 490.8V493.8" stroke="#000" stroke-width="1.1"/>
<path d="M254.08 490.8V493.8" stroke="#000" stroke-width="1.1"/>
<path d="M256.78 490.8V493.8" stroke="#000" stroke-width="1.1"/>
<path d="M259.2 490.8V495.8" stroke="#000" stroke-width="1.8"/>
<text transform="translate(261.7 504.9) scale(1.02 1.1)" font-size="7.4" font-weight="bold" stroke="#000" stroke-width="0.3" text-anchor="end">10</text>
<text transform="translate(262.2 501.6) scale(1 1.1)" font-size="5" font-weight="bold" stroke="#000" stroke-width="0.3">4</text>
<text transform="translate(153.5 516.5) scale(1 1.04)" font-size="8.5" font-weight="bold" stroke="#000" stroke-width="0.3" text-anchor="middle">Serum Dilution</text>
<text transform="translate(16.1 384.2) rotate(-90) scale(1 1.1)" font-size="8.5" font-weight="bold" stroke="#000" stroke-width="0.3" text-anchor="middle">OD Units of AM14 Binding</text>
<text transform="translate(26.9 384.2) rotate(-90) scale(1 1.1)" font-size="8.5" font-weight="bold" stroke="#000" stroke-width="0.3" text-anchor="middle">DS-Cav1 Target</text>
<polyline points="100.65,486.37 125.87,486.37 151.08,486.37 176.3,472.66 201.51,390.28 226.73,318.4 251.95,315.51" fill="none" stroke="#8a3cd8" stroke-width="1.35" stroke-linejoin="round"/>
<path d="M96.65 482.37L104.65 482.37L100.65 490.37Z" fill="#8c22ee"/>
<path d="M121.87 482.37L129.87 482.37L125.87 490.37Z" fill="#8c22ee"/>
<path d="M147.08 482.37L155.08 482.37L151.08 490.37Z" fill="#8c22ee"/>
<path d="M172.3 468.66L180.3 468.66L176.3 476.66Z" fill="#8c22ee"/>
<path d="M197.51 386.28L205.51 386.28L201.51 394.28Z" fill="#8c22ee"/>
<path d="M222.73 314.4L230.73 314.4L226.73 322.4Z" fill="#8c22ee"/>
<path d="M247.95 311.51L255.95 311.51L251.95 319.51Z" fill="#8c22ee"/>
<polyline points="100.65,484.57 125.87,484.57 151.08,484.57 176.3,406.3 201.51,319.64 226.73,293.45 251.95,288.88" fill="none" stroke="#2a1cb8" stroke-width="1.35" stroke-linejoin="round"/>
<path d="M100.65 480.57L104.75 488.57L96.55 488.57Z" fill="#1c0ce0"/>
<path d="M125.87 480.57L129.97 488.57L121.77 488.57Z" fill="#1c0ce0"/>
<path d="M151.08 480.57L155.18 488.57L146.98 488.57Z" fill="#1c0ce0"/>
<path d="M176.3 402.3L180.4 410.3L172.2 410.3Z" fill="#1c0ce0"/>
<path d="M201.51 315.64L205.61 323.64L197.41 323.64Z" fill="#1c0ce0"/>
<path d="M226.73 289.45L230.83 297.45L222.63 297.45Z" fill="#1c0ce0"/>
<path d="M251.95 284.88L256.05 292.88L247.85 292.88Z" fill="#1c0ce0"/>
<polyline points="100.65,484.1 125.87,483.64 151.08,484.56 176.3,482.58 201.51,411.92 226.73,292.07 251.95,330.6" fill="none" stroke="#74401e" stroke-width="1.35" stroke-linejoin="round"/>
<rect x="96.55" y="480" width="8.2" height="8.2" fill="#bc2814" stroke="#7f3a12" stroke-width="0.9"/>
<rect x="121.77" y="479.54" width="8.2" height="8.2" fill="#bc2814" stroke="#7f3a12" stroke-width="0.9"/>
<rect x="146.98" y="480.46" width="8.2" height="8.2" fill="#bc2814" stroke="#7f3a12" stroke-width="0.9"/>
<rect x="172.2" y="478.48" width="8.2" height="8.2" fill="#bc2814" stroke="#7f3a12" stroke-width="0.9"/>
<rect x="197.41" y="407.82" width="8.2" height="8.2" fill="#bc2814" stroke="#7f3a12" stroke-width="0.9"/>
<rect x="222.63" y="287.97" width="8.2" height="8.2" fill="#bc2814" stroke="#7f3a12" stroke-width="0.9"/>
<rect x="247.85" y="326.5" width="8.2" height="8.2" fill="#bc2814" stroke="#7f3a12" stroke-width="0.9"/>
<polyline points="100.65,484.71 125.87,477.7 151.08,402.93 176.3,348.57 226.73,292.07 251.95,323.29" fill="none" stroke="#55922c" stroke-width="1.35" stroke-linejoin="round"/>
<circle cx="100.65" cy="484.71" r="3.9" fill="#44bc1e" stroke="#4f8a1a" stroke-width="0.6"/>
<circle cx="125.87" cy="477.7" r="3.9" fill="#44bc1e" stroke="#4f8a1a" stroke-width="0.6"/>
<circle cx="151.08" cy="402.93" r="3.9" fill="#44bc1e" stroke="#4f8a1a" stroke-width="0.6"/>
<circle cx="176.3" cy="348.57" r="3.9" fill="#44bc1e" stroke="#4f8a1a" stroke-width="0.6"/>
<circle cx="226.73" cy="292.07" r="3.9" fill="#44bc1e" stroke="#4f8a1a" stroke-width="0.6"/>
<circle cx="251.95" cy="323.29" r="3.9" fill="#44bc1e" stroke="#4f8a1a" stroke-width="0.6"/>
<rect x="222.63" y="287.97" width="8.2" height="8.2" fill="#3aa81a" stroke="#6b5a1a" stroke-width="0.7"/>
<rect x="96.55" y="480" width="8.2" height="8.2" fill="#5e8a1e" stroke="#6b5a1a" stroke-width="0.7"/>
<text transform="translate(230.9 375.5) scale(1 1.1)" font-size="8.5" font-weight="bold" stroke="#000" stroke-width="0.3">VLPs</text>
<path d="M208.9 391.4H221.9" stroke="#55922c" stroke-width="1.35"/>
<circle cx="215.4" cy="391.4" r="3.59" fill="#44bc1e" stroke="#4f8a1a" stroke-width="0.6"/>
<text transform="translate(227.8 394.8) scale(1.03 1.1)" font-size="8.3" stroke="#000" stroke-width="0.3">mock</text>
<path d="M208.9 406.3H221.9" stroke="#74401e" stroke-width="1.35"/>
<rect x="211.63" y="402.53" width="7.54" height="7.54" fill="#bc2814" stroke="#7f3a12" stroke-width="0.9"/>
<text transform="translate(227.8 409.7) scale(1.03 1.1)" font-size="8.3" stroke="#000" stroke-width="0.3">DS-Cav1 F</text>
<path d="M208.9 421.3H221.9" stroke="#2a1cb8" stroke-width="1.35"/>
<path d="M215.4 417.62L219.17 424.98L211.63 424.98Z" fill="#1c0ce0"/>
<text transform="translate(227.8 424.7) scale(1.03 1.1)" font-size="8.3" stroke="#000" stroke-width="0.3">Post-F</text>
<path d="M208.9 436H221.9" stroke="#8a3cd8" stroke-width="1.35"/>
<path d="M211.72 432.32L219.08 432.32L215.4 439.68Z" fill="#8c22ee"/>
<text transform="translate(227.8 439.4) scale(1.03 1.1)" font-size="8.3" stroke="#000" stroke-width="0.3">UC-3 F</text>
<text transform="translate(295.9 278.8) scale(1 1)" font-size="14.8" font-weight="bold" stroke="#000" stroke-width="0.3">D</text>
<path d="M329.5 280.1V490.8H541.1" fill="none" stroke="#000" stroke-width="1.8"/>
<path d="M324.2 490.8H329.5" stroke="#000" stroke-width="1.8"/>
<text transform="translate(323.6 493.7) scale(0.95 1.1)" font-size="8" font-weight="bold" stroke="#000" stroke-width="0.3" text-anchor="end">0.0</text>
<path d="M324.2 464.46H329.5" stroke="#000" stroke-width="1.8"/>
<text transform="translate(323.6 467.36) scale(0.95 1.1)" font-size="8" font-weight="bold" stroke="#000" stroke-width="0.3" text-anchor="end">0.2</text>
<path d="M324.2 438.12H329.5" stroke="#000" stroke-width="1.8"/>
<text transform="translate(323.6 441.02) scale(0.95 1.1)" font-size="8" font-weight="bold" stroke="#000" stroke-width="0.3" text-anchor="end">0.4</text>
<path d="M324.2 411.79H329.5" stroke="#000" stroke-width="1.8"/>
<text transform="translate(323.6 414.69) scale(0.95 1.1)" font-size="8" font-weight="bold" stroke="#000" stroke-width="0.3" text-anchor="end">0.6</text>
<path d="M324.2 385.45H329.5" stroke="#000" stroke-width="1.8"/>
<text transform="translate(323.6 388.35) scale(0.95 1.1)" font-size="8" font-weight="bold" stroke="#000" stroke-width="0.3" text-anchor="end">0.8</text>
<path d="M324.2 359.11H329.5" stroke="#000" stroke-width="1.8"/>
<text transform="translate(323.6 362.01) scale(0.95 1.1)" font-size="8" font-weight="bold" stroke="#000" stroke-width="0.3" text-anchor="end">1.0</text>
<path d="M324.2 332.78H329.5" stroke="#000" stroke-width="1.8"/>
<text transform="translate(323.6 335.68) scale(0.95 1.1)" font-size="8" font-weight="bold" stroke="#000" stroke-width="0.3" text-anchor="end">1.2</text>
<path d="M324.2 306.44H329.5" stroke="#000" stroke-width="1.8"/>
<text transform="translate(323.6 309.34) scale(0.95 1.1)" font-size="8" font-weight="bold" stroke="#000" stroke-width="0.3" text-anchor="end">1.4</text>
<path d="M324.2 280.1H329.5" stroke="#000" stroke-width="1.8"/>
<text transform="translate(323.6 283) scale(0.95 1.1)" font-size="8" font-weight="bold" stroke="#000" stroke-width="0.3" text-anchor="end">1.6</text>
<path d="M329.5 490.8V495.8" stroke="#000" stroke-width="1.8"/>
<text transform="translate(332 505) scale(1.02 1.1)" font-size="7.4" font-weight="bold" stroke="#000" stroke-width="0.3" text-anchor="end">10</text>
<text transform="translate(332.5 501.7) scale(1 1.1)" font-size="5" font-weight="bold" stroke="#000" stroke-width="0.3">0</text>
<path d="M345.42 490.8V493.8" stroke="#000" stroke-width="1.1"/>
<path d="M354.74 490.8V493.8" stroke="#000" stroke-width="1.1"/>
<path d="M361.35 490.8V493.8" stroke="#000" stroke-width="1.1"/>
<path d="M366.48 490.8V493.8" stroke="#000" stroke-width="1.1"/>
<path d="M370.66 490.8V493.8" stroke="#000" stroke-width="1.1"/>
<path d="M374.21 490.8V493.8" stroke="#000" stroke-width="1.1"/>
<path d="M377.27 490.8V493.8" stroke="#000" stroke-width="1.1"/>
<path d="M379.98 490.8V493.8" stroke="#000" stroke-width="1.1"/>
<path d="M382.4 490.8V495.8" stroke="#000" stroke-width="1.8"/>
<text transform="translate(384.9 505) scale(1.02 1.1)" font-size="7.4" font-weight="bold" stroke="#000" stroke-width="0.3" text-anchor="end">10</text>
<text transform="translate(385.4 501.7) scale(1 1.1)" font-size="5" font-weight="bold" stroke="#000" stroke-width="0.3">1</text>
<path d="M398.32 490.8V493.8" stroke="#000" stroke-width="1.1"/>
<path d="M407.64 490.8V493.8" stroke="#000" stroke-width="1.1"/>
<path d="M414.25 490.8V493.8" stroke="#000" stroke-width="1.1"/>
<path d="M419.38 490.8V493.8" stroke="#000" stroke-width="1.1"/>
<path d="M423.56 490.8V493.8" stroke="#000" stroke-width="1.1"/>
<path d="M427.11 490.8V493.8" stroke="#000" stroke-width="1.1"/>
<path d="M430.17 490.8V493.8" stroke="#000" stroke-width="1.1"/>
<path d="M432.88 490.8V493.8" stroke="#000" stroke-width="1.1"/>
<path d="M435.3 490.8V495.8" stroke="#000" stroke-width="1.8"/>
<text transform="translate(437.8 505) scale(1.02 1.1)" font-size="7.4" font-weight="bold" stroke="#000" stroke-width="0.3" text-anchor="end">10</text>
<text transform="translate(438.3 501.7) scale(1 1.1)" font-size="5" font-weight="bold" stroke="#000" stroke-width="0.3">2</text>
<path d="M451.22 490.8V493.8" stroke="#000" stroke-width="1.1"/>
<path d="M460.54 490.8V493.8" stroke="#000" stroke-width="1.1"/>
<path d="M467.15 490.8V493.8" stroke="#000" stroke-width="1.1"/>
<path d="M472.28 490.8V493.8" stroke="#000" stroke-width="1.1"/>
<path d="M476.46 490.8V493.8" stroke="#000" stroke-width="1.1"/>
<path d="M480.01 490.8V493.8" stroke="#000" stroke-width="1.1"/>
<path d="M483.07 490.8V493.8" stroke="#000" stroke-width="1.1"/>
<path d="M485.78 490.8V493.8" stroke="#000" stroke-width="1.1"/>
<path d="M488.2 490.8V495.8" stroke="#000" stroke-width="1.8"/>
<text transform="translate(490.7 505) scale(1.02 1.1)" font-size="7.4" font-weight="bold" stroke="#000" stroke-width="0.3" text-anchor="end">10</text>
<text transform="translate(491.2 501.7) scale(1 1.1)" font-size="5" font-weight="bold" stroke="#000" stroke-width="0.3">3</text>
<path d="M504.12 490.8V493.8" stroke="#000" stroke-width="1.1"/>
<path d="M513.44 490.8V493.8" stroke="#000" stroke-width="1.1"/>
<path d="M520.05 490.8V493.8" stroke="#000" stroke-width="1.1"/>
<path d="M525.18 490.8V493.8" stroke="#000" stroke-width="1.1"/>
<path d="M529.36 490.8V493.8" stroke="#000" stroke-width="1.1"/>
<path d="M532.91 490.8V493.8" stroke="#000" stroke-width="1.1"/>
<path d="M535.97 490.8V493.8" stroke="#000" stroke-width="1.1"/>
<path d="M538.68 490.8V493.8" stroke="#000" stroke-width="1.1"/>
<path d="M541.1 490.8V495.8" stroke="#000" stroke-width="1.8"/>
<text transform="translate(543.6 505) scale(1.02 1.1)" font-size="7.4" font-weight="bold" stroke="#000" stroke-width="0.3" text-anchor="end">10</text>
<text transform="translate(544.1 501.7) scale(1 1.1)" font-size="5" font-weight="bold" stroke="#000" stroke-width="0.3">4</text>
<text transform="translate(435.3 517.5) scale(1 1.04)" font-size="8.5" font-weight="bold" stroke="#000" stroke-width="0.3" text-anchor="middle">Serum Dilution</text>
<text transform="translate(298.7 385.45) rotate(-90) scale(1 1.1)" font-size="8.5" font-weight="bold" stroke="#000" stroke-width="0.3" text-anchor="middle">OD Units of AM14 Binding</text>
<text transform="translate(308.8 385.45) rotate(-90) scale(1 1.1)" font-size="8.5" font-weight="bold" stroke="#000" stroke-width="0.3" text-anchor="middle">UC-3 F Target</text>
<polyline points="382.4,486.96 407.64,479.85 432.88,445.74 458.12,340.39 483.36,321.82 508.6,307.73" fill="none" stroke="#8a3cd8" stroke-width="1.35" stroke-linejoin="round"/>
<path d="M378.4 482.96L386.4 482.96L382.4 490.96Z" fill="#8c22ee"/>
<path d="M403.64 475.85L411.64 475.85L407.64 483.85Z" fill="#8c22ee"/>
<path d="M428.88 441.74L436.88 441.74L432.88 449.74Z" fill="#8c22ee"/>
<path d="M454.12 336.39L462.12 336.39L458.12 344.39Z" fill="#8c22ee"/>
<path d="M479.36 317.82L487.36 317.82L483.36 325.82Z" fill="#8c22ee"/>
<path d="M504.6 303.73L512.6 303.73L508.6 311.73Z" fill="#8c22ee"/>
<polyline points="382.4,480.16 407.64,468.7 432.88,424.32 458.12,327 483.36,300.27 508.6,308.17" fill="none" stroke="#2a1cb8" stroke-width="1.35" stroke-linejoin="round"/>
<path d="M382.4 476.16L386.5 484.16L378.3 484.16Z" fill="#1c0ce0"/>
<path d="M407.64 464.7L411.74 472.7L403.54 472.7Z" fill="#1c0ce0"/>
<path d="M432.88 420.32L436.98 428.32L428.78 428.32Z" fill="#1c0ce0"/>
<path d="M458.12 323L462.22 331L454.02 331Z" fill="#1c0ce0"/>
<path d="M483.36 296.27L487.46 304.27L479.26 304.27Z" fill="#1c0ce0"/>
<path d="M508.6 304.17L512.7 312.17L504.5 312.17Z" fill="#1c0ce0"/>
<polyline points="382.4,483.56 407.64,478.42 432.88,467.75 458.12,350.55 483.36,298.8 508.6,316.97" fill="none" stroke="#74401e" stroke-width="1.35" stroke-linejoin="round"/>
<rect x="378.3" y="479.46" width="8.2" height="8.2" fill="#bc2814" stroke="#7f3a12" stroke-width="0.9"/>
<rect x="403.54" y="474.32" width="8.2" height="8.2" fill="#bc2814" stroke="#7f3a12" stroke-width="0.9"/>
<rect x="428.78" y="463.65" width="8.2" height="8.2" fill="#bc2814" stroke="#7f3a12" stroke-width="0.9"/>
<rect x="454.02" y="346.45" width="8.2" height="8.2" fill="#bc2814" stroke="#7f3a12" stroke-width="0.9"/>
<rect x="479.26" y="294.7" width="8.2" height="8.2" fill="#bc2814" stroke="#7f3a12" stroke-width="0.9"/>
<rect x="504.5" y="312.87" width="8.2" height="8.2" fill="#bc2814" stroke="#7f3a12" stroke-width="0.9"/>
<polyline points="382.4,408.76 432.88,382.82 458.12,332.25 483.36,318.55 508.6,334.49" fill="none" stroke="#55922c" stroke-width="1.35" stroke-linejoin="round"/>
<circle cx="382.4" cy="408.76" r="3.9" fill="#44bc1e" stroke="#4f8a1a" stroke-width="0.6"/>
<circle cx="432.88" cy="382.82" r="3.9" fill="#44bc1e" stroke="#4f8a1a" stroke-width="0.6"/>
<circle cx="458.12" cy="332.25" r="3.9" fill="#44bc1e" stroke="#4f8a1a" stroke-width="0.6"/>
<circle cx="483.36" cy="318.55" r="3.9" fill="#44bc1e" stroke="#4f8a1a" stroke-width="0.6"/>
<circle cx="508.6" cy="334.49" r="3.9" fill="#44bc1e" stroke="#4f8a1a" stroke-width="0.6"/>
<text transform="translate(498 380.4) scale(1 1.1)" font-size="8.5" font-weight="bold" stroke="#000" stroke-width="0.3">VLPs</text>
<path d="M479.9 391.4H492.9" stroke="#55922c" stroke-width="1.35"/>
<circle cx="486.4" cy="391.4" r="3.59" fill="#44bc1e" stroke="#4f8a1a" stroke-width="0.6"/>
<text transform="translate(498.5 394.8) scale(1.03 1.1)" font-size="8.3" stroke="#000" stroke-width="0.3">mock</text>
<path d="M479.9 406.6H492.9" stroke="#74401e" stroke-width="1.35"/>
<rect x="482.63" y="402.83" width="7.54" height="7.54" fill="#bc2814" stroke="#7f3a12" stroke-width="0.9"/>
<text transform="translate(498.5 410) scale(1.03 1.1)" font-size="8.3" stroke="#000" stroke-width="0.3">DS-Cav1 F</text>
<path d="M479.9 421.8H492.9" stroke="#2a1cb8" stroke-width="1.35"/>
<path d="M486.4 418.12L490.17 425.48L482.63 425.48Z" fill="#1c0ce0"/>
<text transform="translate(498.5 425.2) scale(1.03 1.1)" font-size="8.3" stroke="#000" stroke-width="0.3">Post-F</text>
<path d="M479.9 436H492.9" stroke="#8a3cd8" stroke-width="1.35"/>
<path d="M482.72 432.32L490.08 432.32L486.4 439.68Z" fill="#8c22ee"/>
<text transform="translate(498.5 439.4) scale(1.03 1.1)" font-size="8.3" stroke="#000" stroke-width="0.3">UC-3 F</text>
</svg></body></html>
